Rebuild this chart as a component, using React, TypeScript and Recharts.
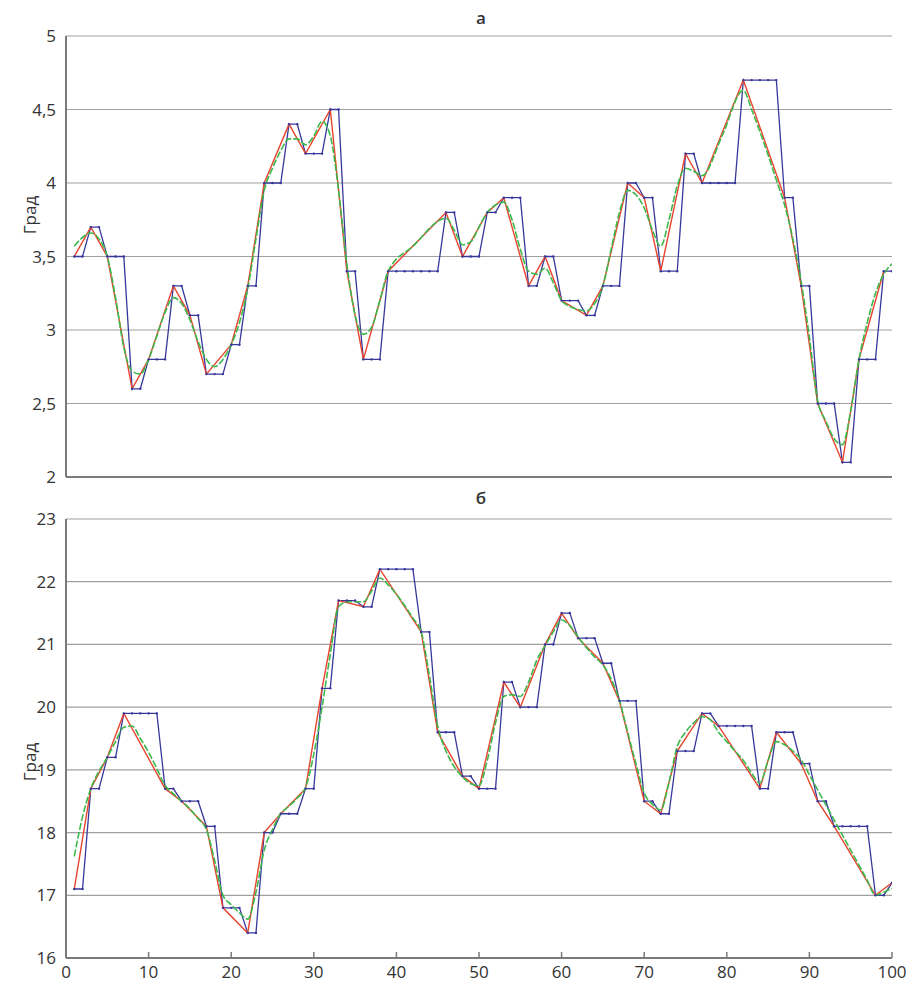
import React from 'react';
import { LineChart, Line, XAxis, YAxis, CartesianGrid } from 'recharts';

// ---------- Panel "а" ----------
const topBlue = [
  3.5, 3.5, 3.7, 3.7, 3.5, 3.5, 3.5, 2.6, 2.6, 2.8,
  2.8, 2.8, 3.3, 3.3, 3.1, 3.1, 2.7, 2.7, 2.7, 2.9,
  2.9, 3.3, 3.3, 4.0, 4.0, 4.0, 4.4, 4.4, 4.2, 4.2,
  4.2, 4.5, 4.5, 3.4, 3.4, 2.8, 2.8, 2.8, 3.4, 3.4,
  3.4, 3.4, 3.4, 3.4, 3.4, 3.8, 3.8, 3.5, 3.5, 3.5,
  3.8, 3.8, 3.9, 3.9, 3.9, 3.3, 3.3, 3.5, 3.5, 3.2,
  3.2, 3.2, 3.1, 3.1, 3.3, 3.3, 3.3, 4.0, 4.0, 3.9,
  3.9, 3.4, 3.4, 3.4, 4.2, 4.2, 4.0, 4.0, 4.0, 4.0,
  4.0, 4.7, 4.7, 4.7, 4.7, 4.7, 3.9, 3.9, 3.3, 3.3,
  2.5, 2.5, 2.5, 2.1, 2.1, 2.8, 2.8, 2.8, 3.4, 3.4,
];
const topRedX = [1, 3, 5, 8, 10, 13, 15, 17, 20, 22, 24, 27, 29, 32, 34, 36, 39, 46, 48, 51, 53, 56, 58, 60, 63, 65, 68, 70, 72, 75, 77, 82, 87, 89, 91, 94, 96, 99];
const topRedY = [3.5, 3.7, 3.5, 2.6, 2.8, 3.3, 3.1, 2.7, 2.9, 3.3, 4.0, 4.4, 4.2, 4.5, 3.4, 2.8, 3.4, 3.8, 3.5, 3.8, 3.9, 3.3, 3.5, 3.2, 3.1, 3.3, 4.0, 3.9, 3.4, 4.2, 4.0, 4.7, 3.9, 3.3, 2.5, 2.1, 2.8, 3.4];
const topGreenX = [1, 2, 3, 4, 5, 6, 7, 8, 9, 10, 11, 12, 13, 14, 15, 16, 17, 18, 19, 20, 21, 22, 23, 24, 25, 26, 27, 28, 29, 30, 31, 32, 33, 34, 35, 36, 37, 38, 39, 42, 46, 47, 48, 49, 50, 51, 52, 53, 54, 55, 56, 57, 58, 59, 60, 61, 62, 63, 64, 65, 66, 67, 68, 69, 70, 71, 72, 73, 74, 75, 76, 77, 79.5, 82, 83, 84, 85, 86, 87, 88, 89, 90, 91, 92, 93, 94, 95, 96, 97, 98, 99, 100];
const topGreenY = [3.57, 3.63, 3.66, 3.62, 3.5, 3.22, 2.88, 2.72, 2.7, 2.8, 2.96, 3.12, 3.22, 3.18, 3.07, 2.92, 2.8, 2.75, 2.8, 2.9, 3.05, 3.28, 3.62, 3.95, 4.1, 4.22, 4.3, 4.3, 4.26, 4.32, 4.42, 4.32, 3.95, 3.45, 3.1, 2.97, 3.02, 3.2, 3.4, 3.57, 3.76, 3.68, 3.58, 3.6, 3.7, 3.8, 3.85, 3.87, 3.75, 3.55, 3.4, 3.38, 3.42, 3.32, 3.2, 3.16, 3.14, 3.13, 3.18, 3.3, 3.55, 3.8, 3.95, 3.92, 3.83, 3.68, 3.57, 3.75, 3.98, 4.1, 4.08, 4.05, 4.33, 4.63, 4.5, 4.35, 4.19, 4.02, 3.85, 3.62, 3.33, 2.95, 2.52, 2.38, 2.26, 2.22, 2.45, 2.8, 3.05, 3.25, 3.38, 3.45];
const topTicks = [2, 2.5, 3, 3.5, 4, 4.5, 5];

// ---------- Panel "б" ----------
const botBlue = [
  17.1, 17.1, 18.7, 18.7, 19.2, 19.2, 19.9, 19.9, 19.9, 19.9,
  19.9, 18.7, 18.7, 18.5, 18.5, 18.5, 18.1, 18.1, 16.8, 16.8,
  16.8, 16.4, 16.4, 18.0, 18.0, 18.3, 18.3, 18.3, 18.7, 18.7,
  20.3, 20.3, 21.7, 21.7, 21.7, 21.6, 21.6, 22.2, 22.2, 22.2,
  22.2, 22.2, 21.2, 21.2, 19.6, 19.6, 19.6, 18.9, 18.9, 18.7,
  18.7, 18.7, 20.4, 20.4, 20.0, 20.0, 20.0, 21.0, 21.0, 21.5,
  21.5, 21.1, 21.1, 21.1, 20.7, 20.7, 20.1, 20.1, 20.1, 18.5,
  18.5, 18.3, 18.3, 19.3, 19.3, 19.3, 19.9, 19.9, 19.7, 19.7,
  19.7, 19.7, 19.7, 18.7, 18.7, 19.6, 19.6, 19.6, 19.1, 19.1,
  18.5, 18.5, 18.1, 18.1, 18.1, 18.1, 18.1, 17.0, 17.0, 17.2,
];
const botRedX = [1, 3, 5, 7, 12, 14, 17, 19, 22, 24, 26, 29, 31, 33, 36, 38, 43, 45, 48, 50, 53, 55, 58, 60, 62, 65, 67, 70, 72, 74, 77, 79, 84, 86, 89, 91, 93, 98, 100];
const botRedY = [17.1, 18.7, 19.2, 19.9, 18.7, 18.5, 18.1, 16.8, 16.4, 18.0, 18.3, 18.7, 20.3, 21.7, 21.6, 22.2, 21.2, 19.6, 18.9, 18.7, 20.4, 20.0, 21.0, 21.5, 21.1, 20.7, 20.1, 18.5, 18.3, 19.3, 19.9, 19.7, 18.7, 19.6, 19.1, 18.5, 18.1, 17.0, 17.2];
const botGreenX = [1, 2, 3, 4, 5, 6, 7, 8, 9, 10, 11, 12, 13, 14, 15, 16, 17, 18, 19, 20, 21, 22, 23, 24, 25, 26, 27, 28, 29, 30, 31, 32, 33, 34, 35, 36, 37, 38, 39, 40, 41, 42, 43, 44, 45, 46, 47, 48, 49, 50, 51, 52, 53, 54, 55, 56, 57, 58, 59, 60, 61, 62, 63, 64, 65, 66, 67, 68, 69, 70, 71, 72, 73, 74, 75, 76, 77, 78, 79, 80, 81, 82, 83, 84, 85, 86, 87, 88, 89, 90, 91, 92, 93, 94, 95, 96, 97, 98, 99, 100];
const botGreenY = [17.62, 18.25, 18.7, 18.98, 19.2, 19.45, 19.68, 19.7, 19.5, 19.28, 19.02, 18.75, 18.62, 18.5, 18.38, 18.22, 18.05, 17.55, 17.0, 16.85, 16.72, 16.62, 17.05, 17.72, 18.05, 18.3, 18.42, 18.55, 18.72, 19.25, 20.0, 20.85, 21.6, 21.68, 21.68, 21.68, 21.85, 22.06, 21.95, 21.8, 21.62, 21.42, 21.2, 20.5, 19.7, 19.3, 19.05, 18.89, 18.78, 18.75, 19.15, 19.75, 20.17, 20.2, 20.17, 20.4, 20.75, 20.98, 21.2, 21.39, 21.3, 21.12, 20.95, 20.8, 20.67, 20.45, 20.11, 19.6, 19.1, 18.63, 18.45, 18.36, 18.8, 19.37, 19.6, 19.75, 19.85, 19.8, 19.6, 19.45, 19.3, 19.15, 18.95, 18.79, 19.15, 19.45, 19.4, 19.3, 19.16, 18.92, 18.68, 18.44, 18.2, 17.96, 17.72, 17.48, 17.24, 17.0, 17.05, 17.11];
const botTicks = [16, 17, 18, 19, 20, 21, 22, 23];

const xTicks = [0, 10, 20, 30, 40, 50, 60, 70, 80, 90, 100];

const toPts = (xs: number[], ys: number[]) => xs.map((x, i) => ({ x, y: ys[i] }));
const blueTable = (ys: number[]) => ys.map((y, i) => ({ x: i + 1, y }));

const BLUE = '#38389c';
const RED = '#e8432c';
const GREEN = '#3db84c';
const AXIS = '#7a7a7a';
const GRID = '#a0a0a0';
const FONT = '"Open Sans", "DejaVu Sans", sans-serif';

const fmt = (v: number) => String(v).replace('.', ',');

type PanelProps = {
  height: number;
  margin: { top: number; right: number; bottom: number; left: number };
  domain: [number, number];
  yTicks: number[];
  blue: number[];
  redX: number[];
  redY: number[];
  greenX: number[];
  greenY: number[];
  showXLabels: boolean;
  xHeight: number;
};

function Panel(p: PanelProps) {
  return (
    <LineChart width={908} height={p.height} margin={p.margin}>
      <CartesianGrid vertical={false} stroke={GRID} strokeWidth={1.2} />
      <XAxis
        type="number"
        dataKey="x"
        domain={[0, 100]}
        ticks={xTicks}
        allowDataOverflow
        height={p.xHeight}
        stroke={AXIS}
        strokeWidth={2}
        tickSize={-6}
        tickMargin={14}
        tick={p.showXLabels ? { fill: '#333', fontSize: 17, fontFamily: FONT } : false}
        tickLine={{ stroke: AXIS, strokeWidth: 1.5 }}
      />
      <YAxis
        type="number"
        domain={p.domain}
        ticks={p.yTicks}
        width={66}
        stroke={AXIS}
        strokeWidth={2}
        tickLine={false}
        tickMargin={4}
        tickFormatter={fmt}
        tick={{ fill: '#333', fontSize: 17, fontFamily: FONT }}
      />
      <Line
        data={blueTable(p.blue)}
        dataKey="y"
        type="linear"
        stroke={BLUE}
        strokeWidth={1.3}
        dot={{ r: 1.2, fill: BLUE, stroke: 'none' }}
        activeDot={false}
        isAnimationActive={false}
      />
      <Line
        data={toPts(p.redX, p.redY)}
        dataKey="y"
        type="linear"
        stroke={RED}
        strokeWidth={1.4}
        dot={false}
        activeDot={false}
        isAnimationActive={false}
      />
      <Line
        data={toPts(p.greenX, p.greenY)}
        dataKey="y"
        type="monotone"
        stroke={GREEN}
        strokeWidth={1.6}
        strokeDasharray="7 2"
        dot={false}
        activeDot={false}
        isAnimationActive={false}
      />
    </LineChart>
  );
}

const titleStyle: React.CSSProperties = {
  position: 'absolute',
  width: 40,
  textAlign: 'center',
  fontFamily: FONT,
  fontSize: 17,
  fontWeight: 600,
  color: '#333',
  lineHeight: '20px',
};

const yLabelStyle: React.CSSProperties = {
  position: 'absolute',
  width: 80,
  textAlign: 'center',
  fontFamily: FONT,
  fontSize: 17,
  color: '#333',
  lineHeight: '20px',
  transform: 'rotate(-90deg)',
};

export default function App() {
  return (
    <div style={{ position: 'absolute', left: 0, top: 0, width: 908, height: 986, background: '#fff', overflow: 'hidden' }}>
      <div style={{ position: 'absolute', left: 0, top: 0 }}>
        <Panel
          height={490}
          margin={{ top: 36, right: 16, bottom: 5, left: 0 }}
          domain={[2, 5]}
          yTicks={topTicks}
          blue={topBlue}
          redX={topRedX}
          redY={topRedY}
          greenX={topGreenX}
          greenY={topGreenY}
          showXLabels={false}
          xHeight={8}
        />
      </div>
      <div style={{ position: 'absolute', left: 0, top: 490 }}>
        <Panel
          height={496}
          margin={{ top: 29, right: 16, bottom: 0, left: 0 }}
          domain={[16, 23]}
          yTicks={botTicks}
          blue={botBlue}
          redX={botRedX}
          redY={botRedY}
          greenX={botGreenX}
          greenY={botGreenY}
          showXLabels={true}
          xHeight={28}
        />
      </div>
      <div style={{ ...titleStyle, left: 461, top: 8 }}>а</div>
      <div style={{ ...titleStyle, left: 461, top: 488 }}>б</div>
      <div style={{ ...yLabelStyle, left: -10, top: 205 }}>Град</div>
      <div style={{ ...yLabelStyle, left: -10, top: 752 }}>Град</div>
    </div>
  );
}
